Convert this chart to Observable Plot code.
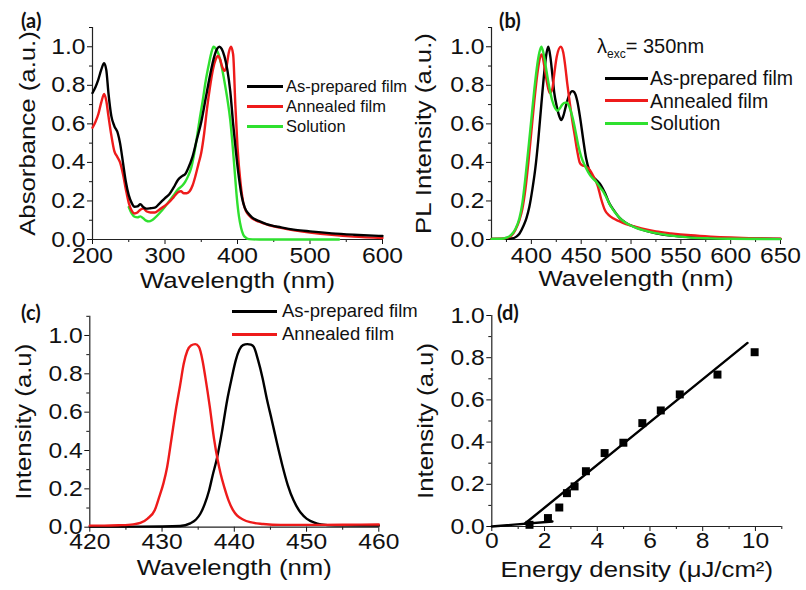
<!DOCTYPE html>
<html><head><meta charset="utf-8">
<script src="https://cdn.jsdelivr.net/npm/d3@7"></script>
<script src="https://cdn.jsdelivr.net/npm/@observablehq/plot@0.6"></script>
<style>
body{margin:0;background:#fff;}
#fig{position:relative;width:806px;height:590px;overflow:hidden;font-family:"Liberation Sans",Arial,sans-serif;color:#111;}
.lg{position:absolute;display:flex;align-items:center;height:20px;line-height:20px;white-space:nowrap;}
.lg .ln{display:inline-block;height:3px;}
.pl{position:absolute;font-family:Lato,"Open Sans",sans-serif;font-weight:700;font-size:20px;line-height:1;}
.lam{position:absolute;font-size:20px;line-height:1;white-space:nowrap;}
.lam sub{font-size:12px;vertical-align:-5px;}
</style></head>
<body><div id="fig"></div>
<script>
// ---------- (a) absorbance ----------
const absBlackX = [200,204,208,212,216,219,222,226,230,235,238,242,246,250,254,258,262,266,270,274,280,286,292,300,306,312,318,324,328,332,338,344,350,356,362,368,372,375,378,382,386,390,394,398,402,406,410,415,420,430,440,460,480,500,530,560,600];
const absBlackY = [0.76,0.79,0.83,0.88,0.915,0.88,0.76,0.64,0.59,0.55,0.50,0.40,0.30,0.23,0.19,0.17,0.172,0.183,0.168,0.16,0.162,0.165,0.185,0.215,0.235,0.27,0.31,0.33,0.34,0.37,0.43,0.52,0.61,0.73,0.85,0.95,0.99,1.0,0.99,0.95,0.88,0.77,0.60,0.45,0.32,0.22,0.165,0.135,0.115,0.095,0.08,0.063,0.05,0.042,0.032,0.025,0.018];
const absRedX = [200,204,208,212,216,219,222,226,230,234,238,242,246,250,254,258,262,266,270,275,280,286,292,300,306,312,318,322,326,330,334,338,342,346,350,354,358,362,366,370,373,376,379,382,385,388,391,394,397,400,404,408,412,416,420,430,440,460,480,500,530,560,600];
const absRedY = [0.58,0.61,0.65,0.71,0.755,0.72,0.64,0.54,0.46,0.43,0.40,0.34,0.26,0.19,0.15,0.135,0.14,0.155,0.16,0.145,0.14,0.14,0.155,0.175,0.195,0.22,0.245,0.25,0.24,0.24,0.25,0.28,0.33,0.39,0.45,0.55,0.68,0.79,0.88,0.935,0.953,0.935,0.895,0.875,0.90,0.97,1.0,0.96,0.70,0.48,0.30,0.19,0.145,0.125,0.11,0.092,0.078,0.06,0.046,0.036,0.024,0.015,0.008];
const absGreenX = [250,254,258,262,266,270,274,278,282,286,292,300,306,312,318,324,328,332,336,340,344,348,352,356,360,364,367,370,374,378,382,386,390,393,396,399,402,405,408,412,416,430,460,500,540];
const absGreenY = [0.168,0.135,0.118,0.115,0.12,0.11,0.098,0.094,0.10,0.112,0.135,0.17,0.20,0.23,0.26,0.28,0.30,0.33,0.37,0.44,0.53,0.63,0.72,0.82,0.90,0.97,1.0,0.99,0.96,0.90,0.82,0.73,0.62,0.50,0.36,0.22,0.12,0.06,0.025,0.008,0.002,0,0,0,0];

// ---------- (b) photoluminescence ----------
const plBlackX = [360,370,380,385,388,392,395,398,401,404,407,410,413,415,417,419,421,423,425.5,428,430,432,435,438,441,443,446,449,452,455,458,461,465,470,474,478,483,488,495,505,515,525,540,560,580,600,650];
const plBlackY = [0.003,0.003,0.005,0.015,0.03,0.07,0.11,0.17,0.26,0.37,0.52,0.70,0.87,0.96,1.0,0.95,0.86,0.76,0.69,0.64,0.62,0.64,0.70,0.75,0.77,0.765,0.72,0.63,0.52,0.42,0.36,0.33,0.31,0.28,0.24,0.19,0.15,0.115,0.085,0.062,0.045,0.032,0.02,0.012,0.008,0.006,0.003];
const plRedX = [360,370,375,380,384,388,391,394,397,400,403,406,408.5,410.5,413,415.5,418.5,421,423,425.5,429.5,432,434,436,438.5,441,443.5,446,448.5,451,454,457,460,463,466.5,470,474,478,482,488,495,505,515,525,540,560,580,600,625,650];
const plRedY = [0.003,0.004,0.008,0.02,0.05,0.10,0.16,0.26,0.40,0.56,0.72,0.86,0.94,0.96,0.90,0.82,0.76,0.78,0.86,0.95,1.0,0.97,0.90,0.81,0.71,0.62,0.54,0.46,0.40,0.385,0.38,0.37,0.35,0.32,0.28,0.21,0.15,0.125,0.11,0.095,0.08,0.065,0.052,0.042,0.032,0.022,0.015,0.01,0.006,0.004];
const plGreenX = [360,370,375,380,384,388,391,394,397,400,403,406,408,410,412,415,418,421,424,426,428.5,431,434,436,438,441,444,447,450,453.5,457,461,465,469,472,476,480,484,490,497,505,515,525,540,560,580,600,650];
const plGreenY = [0.003,0.004,0.01,0.025,0.055,0.11,0.19,0.32,0.47,0.625,0.78,0.91,0.97,1.0,0.97,0.88,0.79,0.72,0.68,0.668,0.68,0.70,0.71,0.71,0.69,0.64,0.57,0.49,0.43,0.385,0.35,0.32,0.30,0.27,0.25,0.21,0.17,0.14,0.105,0.08,0.06,0.045,0.033,0.02,0.01,0.006,0.004,0.002];

// ---------- (c) lasing spectra ----------
const lasRedX = [420,422,424,426,427,428,429,429.6,430.2,430.7,431.3,431.9,432.5,433,433.5,434,434.6,435.1,435.6,436,436.6,437.2,437.7,438.1,438.6,439.2,439.8,440.4,441.2,442.2,444,446.4,450,455,460];
const lasRedY = [0.008,0.008,0.01,0.015,0.022,0.045,0.09,0.157,0.23,0.313,0.46,0.61,0.74,0.852,0.92,0.948,0.955,0.94,0.87,0.78,0.63,0.46,0.35,0.28,0.21,0.14,0.09,0.06,0.04,0.026,0.017,0.012,0.012,0.013,0.014];
const lasBlackX = [420,425,430,432.5,433.9,434.7,435.3,435.9,436.5,437,437.6,438.3,439,439.6,440.2,440.7,441.2,441.8,442.3,442.7,443.3,443.9,444.5,445.2,445.9,446.6,447.4,448.2,449.2,450,451,452,454,460];
const lasBlackY = [0.004,0.003,0.004,0.006,0.02,0.04,0.07,0.12,0.19,0.27,0.36,0.50,0.66,0.77,0.87,0.925,0.95,0.955,0.952,0.94,0.87,0.78,0.67,0.557,0.44,0.33,0.22,0.14,0.075,0.045,0.025,0.015,0.01,0.008];

// ---------- (d) threshold ----------
const energyX = [1.43,2.13,2.56,2.85,3.14,3.57,4.28,4.99,5.71,6.41,7.13,8.56,9.97];
const intensityY = [0.008,0.04,0.09,0.158,0.19,0.262,0.348,0.397,0.49,0.55,0.626,0.72,0.826];
const fitHighX = [1.25,9.7], fitHighY = [0.013,0.87];
const fitLowX = [0,2.3], fitLowY = [0,0.024];

// ---------- labels ----------
const seriesNames = ["As-prepared film","Annealed film","Solution"];
const seriesColors = ["#000000","#ee1b1b","#2fe02f"];
const titlesX = ["Wavelength (nm)","Wavelength (nm)","Wavelength (nm)","Energy density (\u03bcJ/cm\u00b2)"];
const titlesY = ["Absorbance (a.u.)","PL Intensity (a.u.)","Intensity (a.u)","Intensity (a.u)"];
const panelTags = ["(a)","(b)","(c)","(d)"];
const excText = ["\u03bb","exc","= 350nm"];

const fig = document.getElementById("fig");
const rows = (xs, ys) => xs.map((x, i) => ({x, y: ys[i]}));
const range = (a, b, s) => d3.range(a, b + s / 2, s).map(v => +v.toFixed(3));
const K = 1.12;

function panel(o) {
  const p = Plot.plot({
    width: 403, height: 295,
    marginLeft: o.ml, marginRight: o.mr, marginTop: o.mt, marginBottom: o.mb,
    x: {domain: o.xd, label: null},
    y: {domain: o.yd, label: null},
    style: {fontFamily: '"Liberation Sans", Arial, sans-serif', fontSize: "22px", color: "#111", background: "transparent", overflow: "visible"},
    marks: [
      Plot.axisX(o.xMaj, {tickSize: 5, tickPadding: o.xpad, tickFormat: d3.format("d"), label: null}),
      Plot.axisX(o.xMin, {tickSize: 3, tickFormat: () => "", label: null}),
      Plot.axisY(o.yMaj, {tickSize: 5, tickPadding: 2, tickFormat: d3.format(".1f"), label: null}),
      Plot.axisY(o.yMin, {tickSize: 3, tickFormat: () => "", label: null}),
      Plot.ruleY([o.yd[0]], {stroke: "#222", strokeWidth: 1.2}),
      Plot.ruleX([o.xd[0]], {stroke: "#222", strokeWidth: 1.2}),
      ...o.marks,
      Plot.text([o.xTitle], {text: d => d, frameAnchor: "bottom", textAnchor: "middle", lineAnchor: "top", dy: o.xdy, fontSize: 23}),
      Plot.text([o.yTitle], {text: d => d, frameAnchor: "left", textAnchor: "middle", lineAnchor: "middle", rotate: -90, dx: o.ydx, fontSize: 23})
    ]
  });
  p.style.position = "absolute";
  p.style.left = o.left + "px";
  p.style.top = o.top + "px";
  fig.appendChild(p);
  // widen glyphs along the text direction, keeping each text's anchor point
  p.querySelectorAll("text").forEach(t => {
    if (!t.textContent) return;
    let tr = t.getAttribute("transform") || "";
    const xa = t.getAttribute("x"), ya = t.getAttribute("y");
    if (xa !== null && /^-?[\d.]+$/.test(xa)) {
      const yy = (ya !== null && /^-?[\d.]+$/.test(ya)) ? ya : 0;
      tr += ` translate(${xa},${yy})`;
      t.removeAttribute("x");
      if (yy !== 0) t.removeAttribute("y");
    }
    t.setAttribute("transform", (tr + ` scale(${K},1)`).trim());
  });
}

const line = (xs, ys, c) => Plot.line(rows(xs, ys), {x: "x", y: "y", stroke: c, strokeWidth: 2.4, curve: "monotone-x"});

panel({left: 0, top: 0, ml: 92, mr: 21, mt: 27, mb: 56, xd: [200, 600], yd: [0, 1.1],
  xMaj: range(200, 600, 100), xMin: range(250, 550, 100), yMaj: range(0, 1, 0.2), yMin: range(0.1, 1.1, 0.2),
  xpad: 3, xdy: 32, ydx: -65, xTitle: titlesX[0], yTitle: titlesY[0],
  marks: [line(absGreenX, absGreenY, seriesColors[2]), line(absRedX, absRedY, seriesColors[1]), line(absBlackX, absBlackY, seriesColors[0])]});

panel({left: 403, top: 0, ml: 88, mr: 26, mt: 27, mb: 56, xd: [360, 650], yd: [0, 1.1],
  xMaj: range(400, 650, 50), xMin: range(375, 625, 50), yMaj: range(0, 1, 0.2), yMin: range(0.1, 1.1, 0.2),
  xpad: 3, xdy: 30, ydx: -68, xTitle: titlesX[1], yTitle: titlesY[1],
  marks: [line(plBlackX, plBlackY, seriesColors[0]), line(plRedX, plRedY, seriesColors[1]), line(plGreenX, plGreenY, seriesColors[2])]});

panel({left: 0, top: 295, ml: 89.3, mr: 24.7, mt: 20.8, mb: 63.3, xd: [420, 460], yd: [0, 1.1],
  xMaj: range(420, 460, 10), xMin: range(425, 455, 10), yMaj: range(0, 1, 0.2), yMin: range(0.1, 1.1, 0.2),
  xpad: 1, xdy: 31, ydx: -66, xTitle: titlesX[2], yTitle: titlesY[2],
  marks: [line(lasBlackX, lasBlackY, seriesColors[0]), line(lasRedX, lasRedY, seriesColors[1])]});

panel({left: 403, top: 295, ml: 88.3, mr: 24.7, mt: 20, mb: 64, xd: [0, 11], yd: [0, 1],
  xMaj: range(0, 10, 2), xMin: range(1, 11, 2), yMaj: range(0, 1, 0.2), yMin: range(0.1, 0.9, 0.2),
  xpad: 1, xdy: 34, ydx: -66, xTitle: titlesX[3], yTitle: titlesY[3],
  marks: [
    Plot.line(rows(fitLowX, fitLowY), {x: "x", y: "y", stroke: "#000", strokeWidth: 2.4}),
    Plot.line(rows(fitHighX, fitHighY), {x: "x", y: "y", stroke: "#000", strokeWidth: 2.4}),
    Plot.dot(rows(energyX, intensityY), {x: "x", y: "y", symbol: "square", r: 4.5, fill: "#000", stroke: "none"})
  ]});

// legends
function legend(left, centers, lineW, gap, font, n) {
  for (let i = 0; i < n; i++) {
    const d = document.createElement("div");
    d.className = "lg";
    d.style.left = left + "px";
    d.style.top = (centers[i] - 10) + "px";
    d.style.fontSize = font + "px";
    const ln = document.createElement("span");
    ln.className = "ln";
    ln.style.width = lineW + "px";
    ln.style.background = seriesColors[i];
    ln.style.marginRight = gap + "px";
    d.appendChild(ln);
    d.appendChild(document.createTextNode(seriesNames[i]));
    fig.appendChild(d);
  }
}
legend(247, [86, 106, 126], 36, 3, 16.5, 3);
legend(605, [78, 100.5, 123], 43, 2, 19.5, 3);
legend(232, [311, 334], 45, 5, 18.5, 2);

const lam = document.createElement("div");
lam.className = "lam";
lam.style.left = "597px"; lam.style.top = "36px";
lam.innerHTML = excText[0] + "<sub>" + excText[1] + "</sub>" + excText[2];
fig.appendChild(lam);

const tagPos = [[21, 10], [499, 10], [21, 302], [497, 302]];
panelTags.forEach((t, i) => {
  const d = document.createElement("div");
  d.className = "pl";
  d.style.left = tagPos[i][0] + "px";
  d.style.top = tagPos[i][1] + "px";
  d.textContent = t;
  fig.appendChild(d);
});
</script>
</body></html>
